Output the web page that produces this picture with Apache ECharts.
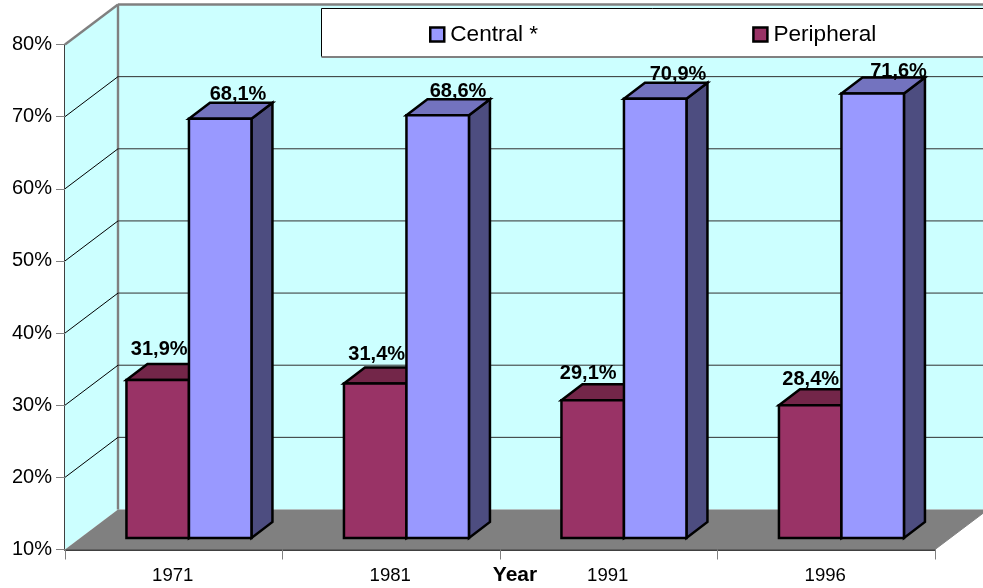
<!DOCTYPE html>
<html><head><meta charset="utf-8">
<style>html,body{margin:0;padding:0;background:#fff}#c{width:983px;height:588px}</style>
<script src="https://cdn.jsdelivr.net/npm/echarts@6/dist/echarts.min.js"></script>
</head><body><div id="c"></div>
<script>
const years = ['1971', '1981', '1991', '1996'];
const central = [68.1, 68.6, 70.9, 71.6];
const peripheral = [31.9, 31.4, 29.1, 28.4];
const yTicks = [20, 30, 40, 50, 60, 70];

const FONT = 'Liberation Sans, Arial, sans-serif';
const wallX = 53, wallY = 40;       // depth of the chart box
const barInX = 15.2, barInY = 11.5; // bars' front plane behind the axis plane
const barDX = 21, barDY = 16;       // depth of a bar
const barW = 62.5;
const centralNudge = [[7.3, 2], [9.8, 2], [12.3, 2], [15.3, 4]];
const peripheralNudge = [[-9, -5], [-9, -3], [-15, -1], [-10, 0]];

const fmt = v => v.toFixed(1).replace('.', ',') + '%';

function bar3d(shift, colors, nudges) {
  return function (params, api) {
    const i = api.value(0), v = api.value(1);
    const top = api.coord([i, v]), base = api.coord([i, 10]);
    const l = top[0] + barInX + shift, r = l + barW;
    const t = top[1] - barInY, b = base[1] - barInY;
    const line = { stroke: '#000', lineWidth: 2.5, lineJoin: 'miter' };
    const n = nudges[params.dataIndex];
    return {
      type: 'group',
      children: [
        { type: 'polygon', shape: { points: [[r, t], [r + barDX, t - barDY], [r + barDX, b - barDY], [r, b]] },
          style: Object.assign({ fill: colors[2] }, line) },
        { type: 'polygon', shape: { points: [[l, t], [l + barDX, t - barDY], [r + barDX, t - barDY], [r, t]] },
          style: Object.assign({ fill: colors[1] }, line) },
        { type: 'rect', shape: { x: l, y: t, width: barW, height: b - t },
          style: Object.assign({ fill: colors[0] }, line) },
        { type: 'text', z2: 50,
          style: { text: fmt(v), x: l + barW / 2 + barDX / 2 + n[0], y: t - barDY + n[1],
            align: 'center', verticalAlign: 'bottom', font: 'bold 20px ' + FONT, fill: '#000' } }
      ]
    };
  };
}

const chart = echarts.init(document.getElementById('c'), null, { renderer: 'canvas' });
chart.setOption({
  animation: false,
  backgroundColor: '#fff',
  grid: { left: 65, right: 48, top: 44.5, bottom: 38.5, outerBoundsMode: 'none' },
  legend: {
    left: 429, top: 23, padding: 0, itemWidth: 14, itemHeight: 14, itemGap: 214,
    data: ['Central *', 'Peripheral'], icon: 'rect', selectedMode: false,
    itemStyle: { borderColor: '#000', borderWidth: 2.5 },
    textStyle: { fontFamily: FONT, fontSize: 22.6, color: '#000', padding: [0, 0, 0, 1] }
  },
  xAxis: {
    type: 'category', data: years, name: 'Year', nameLocation: 'middle', nameGap: 25.5,
    nameMoveOverlap: false,
    nameTextStyle: { fontFamily: FONT, fontSize: 21, fontWeight: 'bold', color: '#000', padding: [0, 0, 0, 30],
      verticalAlign: 'middle' },
    axisLine: { lineStyle: { color: '#404040', width: 2 } },
    axisTick: { show: true, length: 10, lineStyle: { color: '#808080', width: 1 } },
    axisLabel: { fontFamily: FONT, fontSize: 18.6, color: '#000', margin: 17, padding: [0, 2, 0, 0] }
  },
  yAxis: {
    type: 'value', min: 10, max: 80, interval: 10,
    axisLine: { show: true, lineStyle: { color: '#000', width: 1.5 } },
    axisTick: { show: true, length: 9, lineStyle: { color: '#808080', width: 1 } },
    axisLabel: { fontFamily: FONT, fontSize: 20, color: '#000', margin: 13, padding: [4, 0, 0, 0], formatter: '{value}%' },
    splitLine: { show: false }
  },
  series: [
    { type: 'custom', name: 'walls', silent: true, z: 1, data: [[0, 10]],
      renderItem(params, api) {
        const c = params.coordSys, L = c.x, R = c.x + c.width, T = c.y, B = c.y + c.height;
        const gray = { stroke: '#808080', lineWidth: 2.4 };
        return { type: 'group', children: [
          { type: 'polygon', shape: { points: [[L, T], [L + wallX, T - wallY], [L + wallX, B - wallY], [L, B]] }, style: { fill: '#CCFFFF' } },
          { type: 'polygon', shape: { points: [[L + wallX, T - wallY], [R + wallX, T - wallY], [R + wallX, B - wallY], [L + wallX, B - wallY]] }, style: { fill: '#CCFFFF' } },
          { type: 'polygon', shape: { points: [[L, B], [L + wallX, B - wallY], [R + wallX, B - wallY], [R, B]] }, style: { fill: '#808080' } },
          { type: 'line', shape: { x1: L + wallX, y1: T - wallY, x2: L + wallX, y2: B - wallY }, style: gray },
          { type: 'line', shape: { x1: L + wallX, y1: T - wallY, x2: R + wallX, y2: T - wallY }, style: gray },
          { type: 'line', shape: { x1: L, y1: T, x2: L + wallX, y2: T - wallY }, style: gray },
          { type: 'line', shape: { x1: R, y1: B, x2: R + wallX, y2: B - wallY }, style: { stroke: '#808080', lineWidth: 1 } },
          { type: 'rect', shape: { x: 321.5, y: 8.5, width: 700, height: 48 },
            z2: 40, style: { fill: '#fff', stroke: '#000', lineWidth: 1 } },
          { type: 'line', shape: { x1: 321.5, y1: 57, x2: 983, y2: 57 }, z2: 41, style: { stroke: '#808080', lineWidth: 2 } }
        ] };
      }
    },
    { type: 'custom', name: 'gridlines', silent: true, z: 2, data: yTicks.map(v => [0, v]),
      renderItem(params, api) {
        const c = params.coordSys, y = api.coord([0, api.value(1)])[1];
        const p = { stroke: '#303030', lineWidth: 1 };
        return { type: 'group', children: [
          { type: 'line', shape: { x1: c.x, y1: y, x2: c.x + wallX, y2: y - wallY }, style: { stroke: '#000', lineWidth: 1 } },
          { type: 'line', shape: { x1: c.x + wallX, y1: y - wallY, x2: c.x + c.width + wallX, y2: y - wallY }, style: p }
        ] };
      }
    },
    { type: 'custom', name: 'Peripheral', silent: true, z: 3, itemStyle: { color: '#993366' },
      data: peripheral.map((v, i) => [i, v]),
      renderItem: bar3d(-barW, ['#993366', '#732649', '#4D1A33'], peripheralNudge) },
    { type: 'custom', name: 'Central *', silent: true, z: 4, itemStyle: { color: '#9999FF' },
      data: central.map((v, i) => [i, v]),
      renderItem: bar3d(0, ['#9999FF', '#7373BF', '#4D4D80'], centralNudge) }
  ]
});
</script></body></html>
